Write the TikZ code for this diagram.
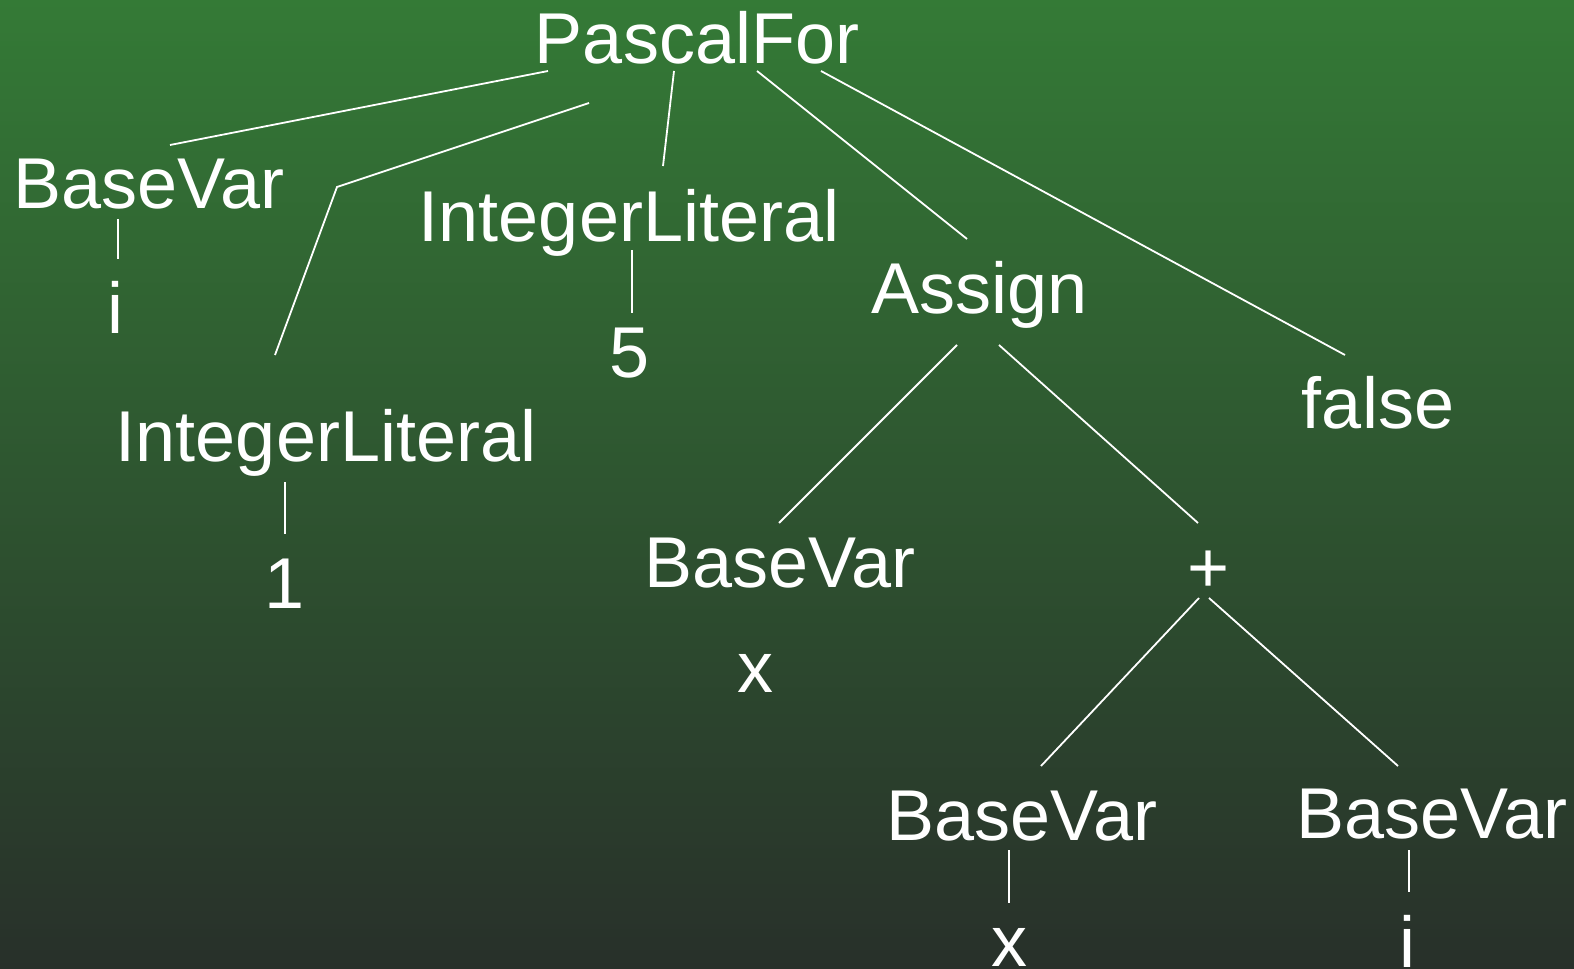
\documentclass[tikz,border=0pt]{standalone}
\usepackage{fontspec}
\setmainfont{Liberation Sans}
\usepackage{xcolor}
\definecolor{topgreen}{HTML}{347A36}
\definecolor{botgreen}{HTML}{28302A}

\begin{document}
\begin{tikzpicture}[x=0.5pt,y=-0.5pt,
    lbl/.style={white,anchor=base,inner sep=0pt,font=\fontsize{36}{40}\selectfont},
    edge/.style={white,line width=0.9pt}]

      \shade[top color=topgreen,bottom color=botgreen] (0,0) rectangle (1574,969);
      \useasboundingbox (0,0) rectangle (1574,969);

      \node[lbl] (root) at (697,63) {PascalFor};

      \node[lbl] (var-i) at (149,208) {BaseVar};
      \node[lbl] (leaf-i) at (115,333) {i};
      \node[lbl] (lit-one) at (326,461) {IntegerLiteral};
      \node[lbl] (leaf-one) at (285,608) {1};
      \node[lbl] (lit-five) at (629,241) {IntegerLiteral};
      \node[lbl] (leaf-five) at (630,377) {5};
      \node[lbl] (assign) at (980,313) {Assign};
      \node[lbl] (false) at (1378,428) {false};

      \node[lbl] (var-x) at (780,587) {BaseVar};
      \node[lbl] (leaf-x) at (755,692) {x};
      \node[lbl] (plus) at (1209,592) {+};
      \node[lbl] (var-xx) at (1022,840) {BaseVar};
      \node[lbl] (leaf-xx) at (1009,966) {x};
      \node[lbl] (var-ii) at (1432,838) {BaseVar};
      \node[lbl] (leaf-ii) at (1407,967) {i};

      % line ends around the labels
      \coordinate (root-1) at (548,71);
      \coordinate (root-2) at (589,103);
      \coordinate (root-3) at (674,71);
      \coordinate (root-4) at (757,71);
      \coordinate (root-5) at (821,71);
      \coordinate (bend) at (337,187);
      \coordinate (var-i-top) at (170,145);
      \coordinate (var-i-bot) at (118,219);
      \coordinate (leaf-i-top) at (118,259);
      \coordinate (lit-one-top) at (275,355);
      \coordinate (lit-one-bot) at (285,482);
      \coordinate (leaf-one-top) at (285,534);
      \coordinate (lit-five-top) at (663,166);
      \coordinate (lit-five-bot) at (632,250);
      \coordinate (leaf-five-top) at (632,313);
      \coordinate (assign-top) at (967,239);
      \coordinate (assign-1) at (957,345);
      \coordinate (assign-2) at (999,345);
      \coordinate (false-top) at (1345,355);
      \coordinate (var-x-top) at (779,523);
      \coordinate (plus-top) at (1198,523);
      \coordinate (plus-1) at (1199,598);
      \coordinate (plus-2) at (1209,598);
      \coordinate (var-xx-top) at (1041,766);
      \coordinate (var-xx-bot) at (1009,850);
      \coordinate (leaf-xx-top) at (1009,903);
      \coordinate (var-ii-top) at (1398,766);
      \coordinate (var-ii-bot) at (1409,850);
      \coordinate (leaf-ii-top) at (1409,892);

      \draw[edge] (root-1) -- (var-i-top);
      \draw[edge] (root-2) -- (bend) -- (lit-one-top);
      \draw[edge] (root-3) -- (lit-five-top);
      \draw[edge] (root-4) -- (assign-top);
      \draw[edge] (root-5) -- (false-top);

      \draw[edge] (var-i-bot) -- (leaf-i-top);
      \draw[edge] (lit-one-bot) -- (leaf-one-top);
      \draw[edge] (lit-five-bot) -- (leaf-five-top);

      \draw[edge] (assign-1) -- (var-x-top);
      \draw[edge] (assign-2) -- (plus-top);
      \draw[edge] (plus-1) -- (var-xx-top);
      \draw[edge] (plus-2) -- (var-ii-top);
      \draw[edge] (var-xx-bot) -- (leaf-xx-top);
      \draw[edge] (var-ii-bot) -- (leaf-ii-top);

    \end{tikzpicture}
\end{document}
